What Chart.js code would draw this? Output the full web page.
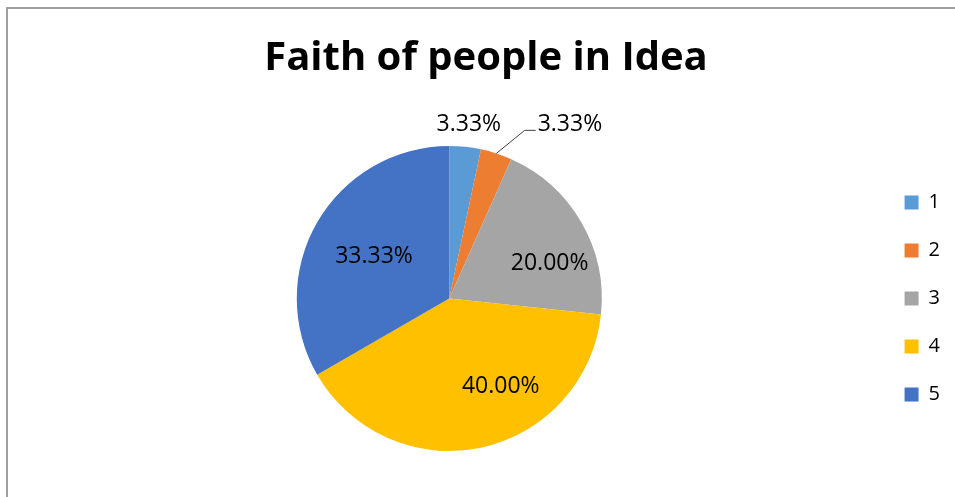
<!DOCTYPE html>
<html>
<head>
<meta charset="utf-8">
<title>Faith of people in Idea</title>
<script src="https://cdn.jsdelivr.net/npm/chart.js@4.4.1/dist/chart.umd.min.js"></script>
<style>
  html, body { margin: 0; padding: 0; background: #fff; overflow: hidden; }
  #frame {
    position: absolute;
    left: 6px;
    top: 7px;
    width: 949px;
    height: 490px;
    border-left: 2px solid #a0a0a0;
    border-top: 2px solid #a0a0a0;
  }
</style>
</head>
<body>
<div id="frame"><canvas id="pieChart" width="947" height="488"></canvas></div>
<script>
const chartTitle = "Faith of people in Idea";
const categories = ["1", "2", "3", "4", "5"];
const shares = [3.33, 3.33, 20.0, 40.0, 33.33];
const sliceColors = ["#5B9BD5", "#ED7D31", "#A5A5A5", "#FFC000", "#4472C4"];

// label placement: t = fraction along the slice sweep, r = distance as share of radius
const labelSpots = [
  { t: 0.53, r: 1.16 },
  { t: 1.87, r: 1.4, leader: true },
  { t: 0.64, r: 0.7 },
  { t: 0.37, r: 0.66 },
  { t: 0.5, r: 0.57 },
];

Chart.defaults.font.family = "'Open Sans', sans-serif";
Chart.defaults.color = "#000";

// percentage labels, with a leader line for the one pushed outside
const sliceLabels = {
  id: "sliceLabels",
  afterDatasetsDraw(chart) {
    const ctx = chart.ctx;
    const meta = chart.getDatasetMeta(0);
    const size = 23;
    ctx.save();
    ctx.font = size + "px 'Open Sans'";
    ctx.fillStyle = "#000";
    ctx.textAlign = "center";
    ctx.textBaseline = "alphabetic";
    meta.data.forEach((arc, i) => {
      const { x, y, startAngle, endAngle, outerRadius } = arc.getProps(
        ["x", "y", "startAngle", "endAngle", "outerRadius"],
        true
      );
      const spot = labelSpots[i];
      const a = startAngle + spot.t * (endAngle - startAngle);
      const lx = x + Math.cos(a) * outerRadius * spot.r;
      const ly = y + Math.sin(a) * outerRadius * spot.r;
      const text = shares[i].toFixed(2) + "%";

      if (spot.leader) {
        const mid = (startAngle + endAngle) / 2;
        const left = lx - ctx.measureText(text).width / 2;
        ctx.beginPath();
        ctx.moveTo(x + Math.cos(mid) * outerRadius, y + Math.sin(mid) * outerRadius);
        ctx.lineTo(left - 13, ly + 8);
        ctx.lineTo(left - 2, ly + 8);
        ctx.strokeStyle = "#404040";
        ctx.lineWidth = 1;
        ctx.stroke();
      }
      // digits centred on the spot
      ctx.fillText(text, lx, ly + size * 0.357);
    });
    ctx.restore();
  },
};

const pieChart = new Chart(document.getElementById("pieChart"), {
  type: "pie",
  data: {
    labels: categories,
    datasets: [
      {
        data: shares,
        backgroundColor: sliceColors,
        borderWidth: 0,
      },
    ],
  },
  options: {
    responsive: false,
    animation: false,
    layout: {
      padding: { top: 0, left: 14, right: 5, bottom: 46 },
    },
    plugins: {
      title: {
        display: true,
        text: chartTitle,
        font: { size: 40, weight: "bold" },
        color: "#000",
        padding: { top: 26, bottom: 63 },
      },
      legend: {
        position: "right",
        fullSize: false,
        labels: {
          boxWidth: 14,
          boxHeight: 14,
          padding: 28,
          font: { size: 20 },
          color: "#000",
        },
      },
      tooltip: { enabled: false },
    },
  },
  plugins: [sliceLabels],
});
</script>
</body>
</html>
